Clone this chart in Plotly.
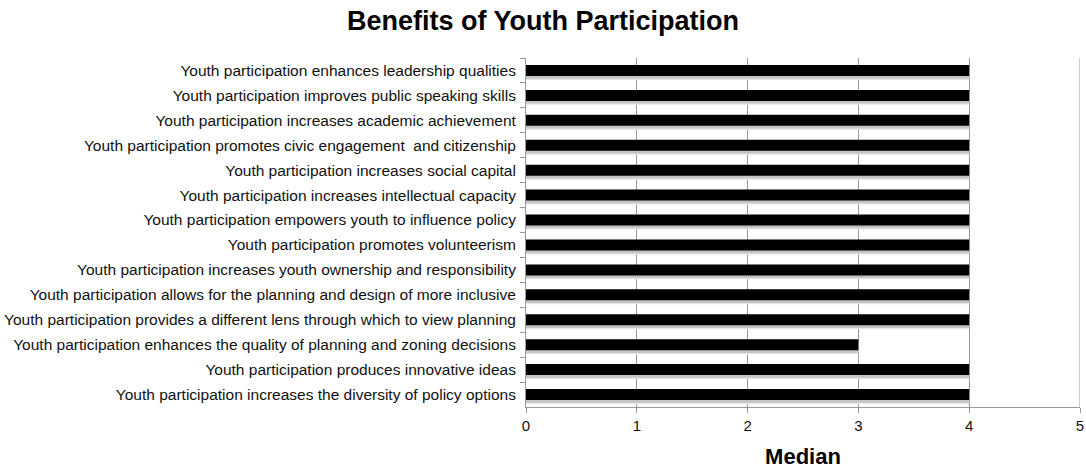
import plotly.graph_objects as go

benefits = [
    "Youth participation enhances leadership qualities",
    "Youth participation improves public speaking skills",
    "Youth participation increases academic achievement",
    "Youth participation promotes civic engagement  and citizenship",
    "Youth participation increases social capital",
    "Youth participation increases intellectual capacity",
    "Youth participation empowers youth to influence policy",
    "Youth participation promotes volunteerism",
    "Youth participation increases youth ownership and responsibility",
    "Youth participation allows for the planning and design of more inclusive",
    "Youth participation provides a different lens through which to view planning",
    "Youth participation enhances the quality of planning and zoning decisions",
    "Youth participation produces innovative ideas",
    "Youth participation increases the diversity of policy options",
]
median = [4, 4, 4, 4, 4, 4, 4, 4, 4, 4, 4, 3, 4, 4]

BAR_W = 0.44
fig = go.Figure()
# soft drop shadow beneath each bar
for shift, col in [(0.16, "#e6e6e6"), (0.11, "#c4c4c4")]:
    fig.add_trace(go.Bar(
        x=median, y=benefits, orientation="h",
        marker=dict(color=col, line=dict(width=0)),
        width=BAR_W, offset=-BAR_W / 2 + shift, hoverinfo="skip",
    ))
fig.add_trace(go.Bar(
    x=median, y=benefits, orientation="h",
    marker=dict(color="black", line=dict(width=0)),
    width=BAR_W, offset=-BAR_W / 2,
))

fig.update_layout(
    width=1086, height=470,
    margin=dict(l=526, r=6, t=58, b=63),
    paper_bgcolor="white", plot_bgcolor="white",
    showlegend=False, barmode="overlay",
    title=dict(text="<b>Benefits of Youth Participation</b>",
               x=0.5, xanchor="center", y=0.957, yanchor="middle",
               font=dict(family="Liberation Sans, Arial", size=27, color="black")),
    font=dict(family="Liberation Sans, Arial", size=15.5, color="#111"),
)
fig.update_xaxes(
    range=[0, 5], dtick=1, showgrid=True, gridcolor="#999", gridwidth=1,
    showline=True, linecolor="#999", ticks="outside", ticklen=5, tickcolor="#999",
    zeroline=False, tickfont=dict(size=15), automargin=False,
    title=dict(text="<b>Median</b>", font=dict(size=22, color="black"), standoff=15),
)
fig.update_yaxes(
    autorange="reversed", showline=True, linecolor="#999",
    ticks="outside", ticklen=5, tickcolor="#999", tickson="boundaries",
    ticklabelstandoff=6, showgrid=False, automargin=False,
)
# right border line at the top of the scale
fig.add_shape(type="line", xref="x", yref="paper", x0=5, x1=5, y0=0, y1=1,
              line=dict(color="#999", width=1))

fig.write_html("out.html")
